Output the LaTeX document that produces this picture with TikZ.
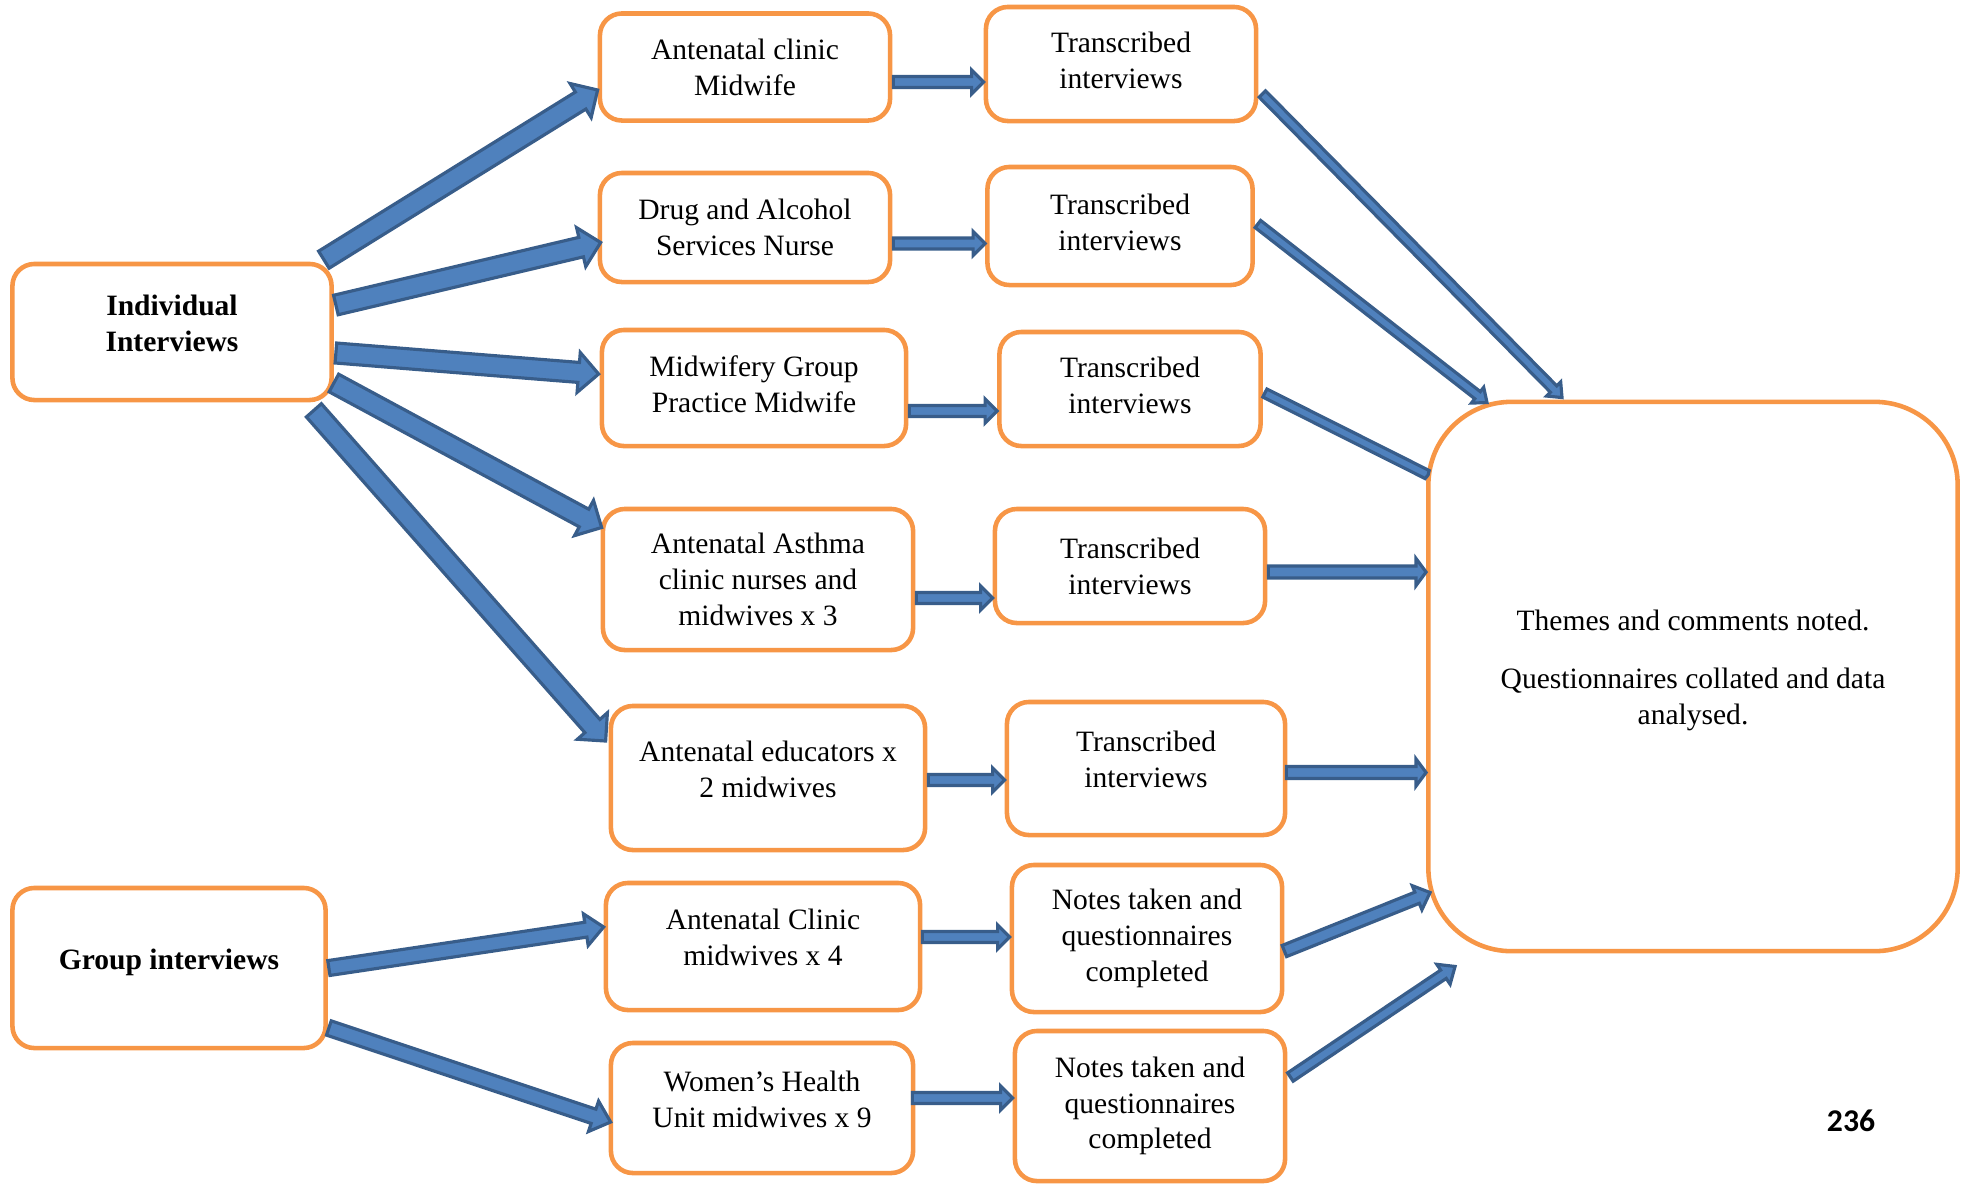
\documentclass[tikz,border=0pt]{standalone}
\usepackage{fontspec}
\setmainfont{Liberation Serif}
\newfontfamily\pagenumfont{Carlito}
\usetikzlibrary{calc}

\definecolor{boxorange}{HTML}{F79646}
\definecolor{arrowfill}{HTML}{4F81BD}
\definecolor{arrowline}{HTML}{385D8A}

% block arrow: #1 half shaft, #2 half head, #3 head length, #4 from, #5 to
\newcommand{\blockarrow}[5]{%
  \coordinate (ba-s) at (#4);
  \coordinate (ba-e) at (#5);
  \coordinate (ba-h) at ($(ba-e)!#3!(ba-s)$);
  \filldraw[barrow] ($(ba-s)!#1!90:(ba-e)$) -- ($(ba-h)!#1!90:(ba-e)$)
    -- ($(ba-h)!#2!90:(ba-e)$) -- (ba-e) -- ($(ba-h)!#2!-90:(ba-e)$)
    -- ($(ba-h)!#1!-90:(ba-e)$) -- ($(ba-s)!#1!-90:(ba-e)$) -- cycle;
}

\begin{document}
\begin{tikzpicture}[x=0.01cm,y=-0.01cm,
    box/.style={draw=boxorange,line width=1.3pt,rounded corners=0.22cm,fill=white,
      align=center,inner sep=2pt,font=\fontsize{8.4}{10.2}\selectfont},
    padtext/.style={text depth=0.18cm},
    liftext/.style={text depth=0.07cm},
    barrow/.style={fill=arrowfill,draw=arrowline,line width=0.9pt,line join=miter}]
    \useasboundingbox (0,0) rectangle (1970,1184);
    % --- sources
    \node[box,padtext,font=\fontsize{8.4}{10.2}\selectfont\bfseries,minimum width=3.19cm,minimum height=1.36cm]
      (ind) at (172,332) {Individual\\Interviews};
    \node[box,padtext,font=\fontsize{8.4}{10.2}\selectfont\bfseries,minimum width=3.13cm,minimum height=1.60cm]
      (grp) at (169,968) {Group interviews};
    % --- participants
    \node[box,minimum width=2.90cm,minimum height=1.07cm] (m1) at (745,67) {Antenatal clinic\\Midwife};
    \node[box,minimum width=2.90cm,minimum height=1.09cm] (m2) at (745,227.5) {Drug and Alcohol\\Services Nurse};
    \node[box,liftext,minimum width=3.04cm,minimum height=1.16cm] (m3) at (754,388) {Midwifery Group\\Practice Midwife};
    \node[box,minimum width=3.10cm,minimum height=1.41cm] (m4) at (758,579.5) {Antenatal Asthma\\clinic nurses and\\midwives x 3};
    \node[box,padtext,minimum width=3.14cm,minimum height=1.44cm] (m5) at (768,778) {Antenatal educators x\\2 midwives};
    \node[box,padtext,minimum width=3.14cm,minimum height=1.27cm] (m6) at (763,946.5) {Antenatal Clinic\\midwives x 4};
    \node[box,padtext,minimum width=3.02cm,minimum height=1.30cm] (m7) at (762,1108) {Women’s Health\\Unit midwives x 9};
    % --- outputs
    \node[box,liftext,minimum width=2.70cm,minimum height=1.14cm] (t1) at (1121,64) {Transcribed\\interviews};
    \node[box,liftext,minimum width=2.65cm,minimum height=1.18cm] (t2) at (1120,226) {Transcribed\\interviews};
    \node[box,liftext,minimum width=2.61cm,minimum height=1.14cm] (t3) at (1130,389) {Transcribed\\interviews};
    \node[box,minimum width=2.70cm,minimum height=1.14cm] (t4) at (1130,566) {Transcribed\\interviews};
    \node[box,padtext,minimum width=2.78cm,minimum height=1.33cm] (t5) at (1146,768.5) {Transcribed\\interviews};
    \node[box,minimum width=2.70cm,minimum height=1.47cm] (n1) at (1147,938.5) {Notes taken and\\questionnaires\\completed};
    \node[box,minimum width=2.70cm,minimum height=1.50cm] (n2) at (1150,1106) {Notes taken and\\questionnaires\\completed};
    % --- analysis
    \node[box,padtext,rounded corners=0.83cm,minimum width=5.29cm,minimum height=5.49cm] (big) at (1693,676.5)
      {Themes and comments noted.\\[0.22cm]Questionnaires collated and data\\analysed.};
    \node[font=\pagenumfont\bfseries\fontsize{9}{11}\selectfont] (page) at (1851,1121) {236};
    % --- arrows from the interview types
    \blockarrow{0.10cm}{0.20cm}{0.20cm}{$(ind.north east)+(-10,-2)$}{$(m1.west)+(0,23)$}
    \blockarrow{0.10cm}{0.20cm}{0.20cm}{$(ind.east)+(2,-27)$}{$(m2.west)+(3,15)$}
    \blockarrow{0.10cm}{0.20cm}{0.20cm}{$(ind.east)+(2,21)$}{$(m3.west)+(-1,-14)$}
    \blockarrow{0.10cm}{0.20cm}{0.20cm}{$(ind.east)+(0,51)$}{$(m4.west)+(1,-52)$}
    \blockarrow{0.10cm}{0.20cm}{0.20cm}{$(ind.south east)+(-20,8)$}{$(m5.west)+(-3,-37)$}
    \blockarrow{0.075cm}{0.16cm}{0.18cm}{$(grp.east)+(1,0)$}{$(m6.west)+(0,-19.5)$}
    \blockarrow{0.075cm}{0.16cm}{0.18cm}{$(grp.east)+(1,60)$}{$(m7.west)+(2,14)$}
    % --- participants to outputs
    \blockarrow{0.055cm}{0.12cm}{0.12cm}{$(m1.east)+(1,15)$}{t1.west |- ba-s}
    \blockarrow{0.055cm}{0.12cm}{0.12cm}{$(m2.east)+(1,16)$}{t2.west |- ba-s}
    \blockarrow{0.055cm}{0.12cm}{0.12cm}{$(m3.east)+(1,23)$}{t3.west |- ba-s}
    \blockarrow{0.055cm}{0.12cm}{0.12cm}{$(m4.east)+(1,18.5)$}{t4.west |- ba-s}
    \blockarrow{0.055cm}{0.12cm}{0.12cm}{$(m5.east)+(1,2)$}{t5.west |- ba-s}
    \blockarrow{0.055cm}{0.12cm}{0.12cm}{$(m6.east)+(0,-9.5)$}{n1.west |- ba-s}
    \blockarrow{0.055cm}{0.12cm}{0.12cm}{$(m7.east)+(-3,-10)$}{n2.west |- ba-s}
    % --- outputs to analysis
    \blockarrow{0.045cm}{0.10cm}{0.12cm}{$(t1.east)+(4,30)$}{$(big.north)+(-131,-2)$}
    \blockarrow{0.045cm}{0.10cm}{0.12cm}{$(t2.east)+(3,-2)$}{$(big.north)+(-206,3)$}
    \blockarrow{0.045cm}{0.045cm}{0.01cm}{$(t3.east)+(2,4)$}{$(big.west)+(2,-201.5)$}
    \blockarrow{0.06cm}{0.135cm}{0.10cm}{$(t4.east)+(1,6)$}{big.west |- ba-s}
    \blockarrow{0.06cm}{0.135cm}{0.10cm}{$(t5.east)+(-1,4)$}{big.west |- ba-s}
    \blockarrow{0.06cm}{0.13cm}{0.14cm}{$(n1.east)+(0,12.5)$}{$(big.west)+(4,216)$}
    \blockarrow{0.05cm}{0.12cm}{0.14cm}{$(n2.east)+(3,-29)$}{$(big.south west)+(29,13)$}
  \end{tikzpicture}
\end{document}
